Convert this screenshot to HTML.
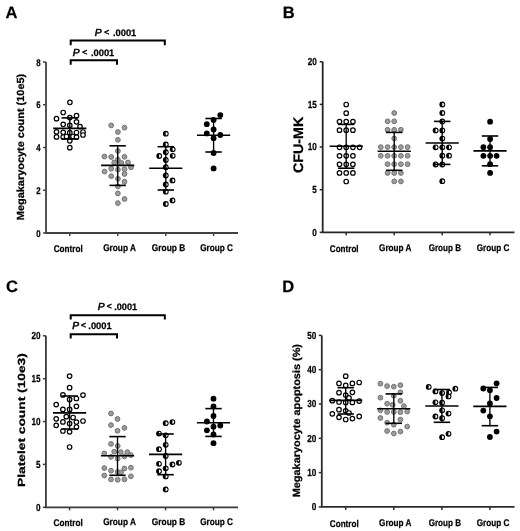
<!DOCTYPE html>
<html><head><meta charset="utf-8"><style>
html,body{margin:0;padding:0;background:#fff;}
svg{display:block;filter:grayscale(1);}
text{font-family:"Liberation Sans", sans-serif;text-rendering:geometricPrecision;fill:#000;stroke:#000;stroke-width:0.25px;}
</style></head><body>
<svg width="520" height="531" viewBox="0 0 520 531">
<circle cx="69.9" cy="102.3" r="2.25" fill="#fff" stroke="#000" stroke-width="1.2"/>
<circle cx="63.2" cy="112.5" r="2.25" fill="#fff" stroke="#000" stroke-width="1.2"/>
<circle cx="56.5" cy="118.7" r="2.25" fill="#fff" stroke="#000" stroke-width="1.2"/>
<circle cx="69.8" cy="117.6" r="2.25" fill="#fff" stroke="#000" stroke-width="1.2"/>
<circle cx="76.5" cy="115.7" r="2.25" fill="#fff" stroke="#000" stroke-width="1.2"/>
<circle cx="76.5" cy="121.8" r="2.25" fill="#fff" stroke="#000" stroke-width="1.2"/>
<circle cx="63.2" cy="124.3" r="2.25" fill="#fff" stroke="#000" stroke-width="1.2"/>
<circle cx="69.8" cy="125.3" r="2.25" fill="#fff" stroke="#000" stroke-width="1.2"/>
<circle cx="80" cy="126.6" r="2.25" fill="#fff" stroke="#000" stroke-width="1.2"/>
<circle cx="56.5" cy="131.8" r="2.25" fill="#fff" stroke="#000" stroke-width="1.2"/>
<circle cx="63.2" cy="132.3" r="2.25" fill="#fff" stroke="#000" stroke-width="1.2"/>
<circle cx="69.8" cy="132.7" r="2.25" fill="#fff" stroke="#000" stroke-width="1.2"/>
<circle cx="76.5" cy="132.5" r="2.25" fill="#fff" stroke="#000" stroke-width="1.2"/>
<circle cx="83" cy="132" r="2.25" fill="#fff" stroke="#000" stroke-width="1.2"/>
<circle cx="83" cy="135" r="2.25" fill="#fff" stroke="#000" stroke-width="1.2"/>
<circle cx="56.5" cy="136.9" r="2.25" fill="#fff" stroke="#000" stroke-width="1.2"/>
<circle cx="63.2" cy="137" r="2.25" fill="#fff" stroke="#000" stroke-width="1.2"/>
<circle cx="73" cy="136.5" r="2.25" fill="#fff" stroke="#000" stroke-width="1.2"/>
<circle cx="76.5" cy="137.2" r="2.25" fill="#fff" stroke="#000" stroke-width="1.2"/>
<circle cx="66.5" cy="136.5" r="2.25" fill="#fff" stroke="#000" stroke-width="1.2"/>
<circle cx="69.8" cy="140.8" r="2.25" fill="#fff" stroke="#000" stroke-width="1.2"/>
<circle cx="69.8" cy="147.7" r="2.25" fill="#fff" stroke="#000" stroke-width="1.2"/>
<circle cx="111.2" cy="125.4" r="2.4" fill="#9c9c9c" stroke="#707070" stroke-width="1"/>
<circle cx="124.5" cy="127.7" r="2.4" fill="#9c9c9c" stroke="#707070" stroke-width="1"/>
<circle cx="117.9" cy="132" r="2.4" fill="#9c9c9c" stroke="#707070" stroke-width="1"/>
<circle cx="117.9" cy="139.8" r="2.4" fill="#9c9c9c" stroke="#707070" stroke-width="1"/>
<circle cx="117.9" cy="151" r="2.4" fill="#9c9c9c" stroke="#707070" stroke-width="1"/>
<circle cx="104.4" cy="156.5" r="2.4" fill="#9c9c9c" stroke="#707070" stroke-width="1"/>
<circle cx="111.2" cy="157" r="2.4" fill="#9c9c9c" stroke="#707070" stroke-width="1"/>
<circle cx="124.5" cy="156.8" r="2.4" fill="#9c9c9c" stroke="#707070" stroke-width="1"/>
<circle cx="117.9" cy="159.6" r="2.4" fill="#9c9c9c" stroke="#707070" stroke-width="1"/>
<circle cx="114.2" cy="162.5" r="2.4" fill="#9c9c9c" stroke="#707070" stroke-width="1"/>
<circle cx="121.4" cy="163" r="2.4" fill="#9c9c9c" stroke="#707070" stroke-width="1"/>
<circle cx="128" cy="162.5" r="2.4" fill="#9c9c9c" stroke="#707070" stroke-width="1"/>
<circle cx="104.6" cy="171.6" r="2.4" fill="#9c9c9c" stroke="#707070" stroke-width="1"/>
<circle cx="111.2" cy="168.75" r="2.4" fill="#9c9c9c" stroke="#707070" stroke-width="1"/>
<circle cx="117.9" cy="169.7" r="2.4" fill="#9c9c9c" stroke="#707070" stroke-width="1"/>
<circle cx="124.5" cy="169.2" r="2.4" fill="#9c9c9c" stroke="#707070" stroke-width="1"/>
<circle cx="131" cy="167.3" r="2.4" fill="#9c9c9c" stroke="#707070" stroke-width="1"/>
<circle cx="124.5" cy="174" r="2.4" fill="#9c9c9c" stroke="#707070" stroke-width="1"/>
<circle cx="111.2" cy="176.2" r="2.4" fill="#9c9c9c" stroke="#707070" stroke-width="1"/>
<circle cx="117.9" cy="178.8" r="2.4" fill="#9c9c9c" stroke="#707070" stroke-width="1"/>
<circle cx="124.5" cy="181.7" r="2.4" fill="#9c9c9c" stroke="#707070" stroke-width="1"/>
<circle cx="117.9" cy="186.4" r="2.4" fill="#9c9c9c" stroke="#707070" stroke-width="1"/>
<circle cx="117.9" cy="193.4" r="2.4" fill="#9c9c9c" stroke="#707070" stroke-width="1"/>
<circle cx="124.5" cy="199" r="2.4" fill="#9c9c9c" stroke="#707070" stroke-width="1"/>
<circle cx="117.9" cy="203.1" r="2.4" fill="#9c9c9c" stroke="#707070" stroke-width="1"/>
<circle cx="165.8" cy="133.7" r="2.9" fill="#000"/><path d="M165.75 131.95A1.9 1.75 0 0 1 165.75 135.45Z" fill="#fff"/>
<circle cx="165.8" cy="144.5" r="2.9" fill="#000"/><path d="M165.75 142.75A1.9 1.75 0 0 1 165.75 146.25Z" fill="#fff"/>
<circle cx="172.7" cy="149.3" r="2.9" fill="#000"/><path d="M172.65 147.55A1.9 1.75 0 0 1 172.65 151.05Z" fill="#fff"/>
<circle cx="165.8" cy="152.2" r="2.9" fill="#000"/><path d="M165.75 150.45A1.9 1.75 0 0 1 165.75 153.95Z" fill="#fff"/>
<circle cx="159.2" cy="156" r="2.9" fill="#000"/><path d="M159.15 154.25A1.9 1.75 0 0 1 159.15 157.75Z" fill="#fff"/>
<circle cx="172.7" cy="155.8" r="2.9" fill="#000"/><path d="M172.65 154.05A1.9 1.75 0 0 1 172.65 157.55Z" fill="#fff"/>
<circle cx="165.8" cy="159.9" r="2.9" fill="#000"/><path d="M165.75 158.15A1.9 1.75 0 0 1 165.75 161.65Z" fill="#fff"/>
<circle cx="165.8" cy="167.2" r="2.9" fill="#000"/><path d="M165.75 165.45A1.9 1.75 0 0 1 165.75 168.95Z" fill="#fff"/>
<circle cx="165.8" cy="175.4" r="2.9" fill="#000"/><path d="M165.75 173.65A1.9 1.75 0 0 1 165.75 177.15Z" fill="#fff"/>
<circle cx="172.5" cy="180.4" r="2.9" fill="#000"/><path d="M172.45 178.65A1.9 1.75 0 0 1 172.45 182.15Z" fill="#fff"/>
<circle cx="165.8" cy="184.5" r="2.9" fill="#000"/><path d="M165.75 182.75A1.9 1.75 0 0 1 165.75 186.25Z" fill="#fff"/>
<circle cx="165.8" cy="191.7" r="2.9" fill="#000"/><path d="M165.75 189.95A1.9 1.75 0 0 1 165.75 193.45Z" fill="#fff"/>
<circle cx="172.5" cy="200.4" r="2.9" fill="#000"/><path d="M172.45 198.65A1.9 1.75 0 0 1 172.45 202.15Z" fill="#fff"/>
<circle cx="165.8" cy="204" r="2.9" fill="#000"/><path d="M165.75 202.25A1.9 1.75 0 0 1 165.75 205.75Z" fill="#fff"/>
<circle cx="220.3" cy="115.1" r="2.9" fill="#000"/>
<circle cx="213.6" cy="119.9" r="2.9" fill="#000"/>
<circle cx="206.8" cy="124.2" r="2.9" fill="#000"/>
<circle cx="213.6" cy="129.5" r="2.9" fill="#000"/>
<circle cx="206.8" cy="133.4" r="2.9" fill="#000"/>
<circle cx="220.3" cy="135" r="2.9" fill="#000"/>
<circle cx="213.6" cy="138.2" r="2.9" fill="#000"/>
<circle cx="213.6" cy="153" r="2.9" fill="#000"/>
<circle cx="213.6" cy="168.4" r="2.9" fill="#000"/>
<line x1="69.8" y1="117.9" x2="69.8" y2="139.0" stroke="#000" stroke-width="1.35"/>
<line x1="61.599999999999994" y1="117.9" x2="78.0" y2="117.9" stroke="#000" stroke-width="1.6"/>
<line x1="61.599999999999994" y1="139.0" x2="78.0" y2="139.0" stroke="#000" stroke-width="1.6"/>
<line x1="53.199999999999996" y1="128.4" x2="86.4" y2="128.4" stroke="#000" stroke-width="1.6"/>
<line x1="117.7" y1="145.8" x2="117.7" y2="185.4" stroke="#000" stroke-width="1.35"/>
<line x1="109.5" y1="145.8" x2="125.9" y2="145.8" stroke="#000" stroke-width="1.6"/>
<line x1="109.5" y1="185.4" x2="125.9" y2="185.4" stroke="#000" stroke-width="1.6"/>
<line x1="101.1" y1="165.4" x2="134.3" y2="165.4" stroke="#000" stroke-width="1.6"/>
<line x1="165.8" y1="146.7" x2="165.8" y2="190.0" stroke="#000" stroke-width="1.35"/>
<line x1="157.60000000000002" y1="146.7" x2="174.0" y2="146.7" stroke="#000" stroke-width="1.6"/>
<line x1="157.60000000000002" y1="190.0" x2="174.0" y2="190.0" stroke="#000" stroke-width="1.6"/>
<line x1="149.20000000000002" y1="168.3" x2="182.4" y2="168.3" stroke="#000" stroke-width="1.6"/>
<line x1="213.6" y1="118.5" x2="213.6" y2="152.0" stroke="#000" stroke-width="1.35"/>
<line x1="205.4" y1="118.5" x2="221.79999999999998" y2="118.5" stroke="#000" stroke-width="1.6"/>
<line x1="205.4" y1="152.0" x2="221.79999999999998" y2="152.0" stroke="#000" stroke-width="1.6"/>
<line x1="197.0" y1="135.3" x2="230.2" y2="135.3" stroke="#000" stroke-width="1.6"/>
<path d="M46 62 V233 H238" fill="none" stroke="#424242" stroke-width="1.8"/>
<line x1="43" y1="233" x2="46" y2="233" stroke="#424242" stroke-width="1.5"/>
<text x="40.7" y="236.53" text-anchor="end" font-size="9.8" font-weight="bold" textLength="4.36" lengthAdjust="spacingAndGlyphs">0</text>
<line x1="43" y1="190.25" x2="46" y2="190.25" stroke="#424242" stroke-width="1.5"/>
<text x="40.7" y="193.78" text-anchor="end" font-size="9.8" font-weight="bold" textLength="4.36" lengthAdjust="spacingAndGlyphs">2</text>
<line x1="43" y1="147.5" x2="46" y2="147.5" stroke="#424242" stroke-width="1.5"/>
<text x="40.7" y="151.03" text-anchor="end" font-size="9.8" font-weight="bold" textLength="4.36" lengthAdjust="spacingAndGlyphs">4</text>
<line x1="43" y1="104.75" x2="46" y2="104.75" stroke="#424242" stroke-width="1.5"/>
<text x="40.7" y="108.28" text-anchor="end" font-size="9.8" font-weight="bold" textLength="4.36" lengthAdjust="spacingAndGlyphs">6</text>
<line x1="43" y1="62" x2="46" y2="62" stroke="#424242" stroke-width="1.5"/>
<text x="40.7" y="65.53" text-anchor="end" font-size="9.8" font-weight="bold" textLength="4.36" lengthAdjust="spacingAndGlyphs">8</text>
<line x1="69.8" y1="233" x2="69.8" y2="236" stroke="#424242" stroke-width="1.5"/>
<line x1="117.7" y1="233" x2="117.7" y2="236" stroke="#424242" stroke-width="1.5"/>
<line x1="165.8" y1="233" x2="165.8" y2="236" stroke="#424242" stroke-width="1.5"/>
<line x1="213.6" y1="233" x2="213.6" y2="236" stroke="#424242" stroke-width="1.5"/>
<text x="53.7" y="252.10" font-size="9.7" font-weight="bold" textLength="29.0" lengthAdjust="spacingAndGlyphs">Control</text>
<text x="103.2" y="251.10" font-size="9.7" font-weight="bold" textLength="32.7" lengthAdjust="spacingAndGlyphs">Group A</text>
<text x="151.8" y="251.10" font-size="9.7" font-weight="bold" textLength="33.4" lengthAdjust="spacingAndGlyphs">Group B</text>
<text x="200.2" y="251.10" font-size="9.7" font-weight="bold" textLength="32.8" lengthAdjust="spacingAndGlyphs">Group C</text>
<text transform="translate(24.2,220.2) rotate(-90)" x="0" y="0" font-size="10.3" font-weight="bold" textLength="146.4" lengthAdjust="spacingAndGlyphs">Megakaryocyte count (10e5)</text>
<path d="M70.7 45.3 V40.5 H164.8 V45.3" fill="none" stroke="#000" stroke-width="2"/>
<path d="M70.7 64.8 V60.3 H117 V64.8" fill="none" stroke="#000" stroke-width="2"/>
<text x="94.80" y="35.60" font-size="10.2" font-weight="normal" font-style="italic" style="stroke-width:0.55px">P</text>
<text x="104.20" y="35.10" font-size="8.6" font-weight="normal" style="stroke-width:0.5px">&lt;</text>
<text x="113.00" y="35.5" font-size="9.3" font-weight="bold" textLength="23.30" lengthAdjust="spacingAndGlyphs">.0001</text>
<text x="72.80" y="55.70" font-size="10.2" font-weight="normal" font-style="italic" style="stroke-width:0.55px">P</text>
<text x="82.20" y="55.20" font-size="8.6" font-weight="normal" style="stroke-width:0.5px">&lt;</text>
<text x="91.00" y="55.6" font-size="9.3" font-weight="bold" textLength="23.30" lengthAdjust="spacingAndGlyphs">.0001</text>
<text x="5.5" y="17.7" font-size="16.5" font-weight="bold">A</text>
<circle cx="346.2" cy="104.5" r="2.25" fill="#fff" stroke="#000" stroke-width="1.2"/>
<circle cx="346.2" cy="113.2" r="2.25" fill="#fff" stroke="#000" stroke-width="1.2"/>
<circle cx="339.5" cy="121.6" r="2.25" fill="#fff" stroke="#000" stroke-width="1.2"/>
<circle cx="346.2" cy="121.6" r="2.25" fill="#fff" stroke="#000" stroke-width="1.2"/>
<circle cx="352.9" cy="121.6" r="2.25" fill="#fff" stroke="#000" stroke-width="1.2"/>
<circle cx="339.5" cy="130.2" r="2.25" fill="#fff" stroke="#000" stroke-width="1.2"/>
<circle cx="346.2" cy="130.2" r="2.25" fill="#fff" stroke="#000" stroke-width="1.2"/>
<circle cx="352.9" cy="130.2" r="2.25" fill="#fff" stroke="#000" stroke-width="1.2"/>
<circle cx="339.5" cy="147.3" r="2.25" fill="#fff" stroke="#000" stroke-width="1.2"/>
<circle cx="346.2" cy="147.3" r="2.25" fill="#fff" stroke="#000" stroke-width="1.2"/>
<circle cx="352.9" cy="147.3" r="2.25" fill="#fff" stroke="#000" stroke-width="1.2"/>
<circle cx="359.6" cy="147.3" r="2.25" fill="#fff" stroke="#000" stroke-width="1.2"/>
<circle cx="339.5" cy="155.8" r="2.25" fill="#fff" stroke="#000" stroke-width="1.2"/>
<circle cx="346.2" cy="155.8" r="2.25" fill="#fff" stroke="#000" stroke-width="1.2"/>
<circle cx="352.9" cy="155.8" r="2.25" fill="#fff" stroke="#000" stroke-width="1.2"/>
<circle cx="339.5" cy="164.3" r="2.25" fill="#fff" stroke="#000" stroke-width="1.2"/>
<circle cx="346.2" cy="164.3" r="2.25" fill="#fff" stroke="#000" stroke-width="1.2"/>
<circle cx="352.9" cy="164.3" r="2.25" fill="#fff" stroke="#000" stroke-width="1.2"/>
<circle cx="339.5" cy="172.9" r="2.25" fill="#fff" stroke="#000" stroke-width="1.2"/>
<circle cx="346.2" cy="172.9" r="2.25" fill="#fff" stroke="#000" stroke-width="1.2"/>
<circle cx="352.9" cy="172.9" r="2.25" fill="#fff" stroke="#000" stroke-width="1.2"/>
<circle cx="346.2" cy="181.5" r="2.25" fill="#fff" stroke="#000" stroke-width="1.2"/>
<circle cx="394.2" cy="113" r="2.4" fill="#9c9c9c" stroke="#707070" stroke-width="1"/>
<circle cx="387.6" cy="121.3" r="2.4" fill="#9c9c9c" stroke="#707070" stroke-width="1"/>
<circle cx="394.2" cy="121.3" r="2.4" fill="#9c9c9c" stroke="#707070" stroke-width="1"/>
<circle cx="387.6" cy="129.8" r="2.4" fill="#9c9c9c" stroke="#707070" stroke-width="1"/>
<circle cx="394.2" cy="129.8" r="2.4" fill="#9c9c9c" stroke="#707070" stroke-width="1"/>
<circle cx="400.9" cy="129.8" r="2.4" fill="#9c9c9c" stroke="#707070" stroke-width="1"/>
<circle cx="394.2" cy="138.5" r="2.4" fill="#9c9c9c" stroke="#707070" stroke-width="1"/>
<circle cx="380.8" cy="147.1" r="2.4" fill="#9c9c9c" stroke="#707070" stroke-width="1"/>
<circle cx="387.6" cy="147.1" r="2.4" fill="#9c9c9c" stroke="#707070" stroke-width="1"/>
<circle cx="394.2" cy="147.1" r="2.4" fill="#9c9c9c" stroke="#707070" stroke-width="1"/>
<circle cx="400.9" cy="147.1" r="2.4" fill="#9c9c9c" stroke="#707070" stroke-width="1"/>
<circle cx="407.6" cy="147.1" r="2.4" fill="#9c9c9c" stroke="#707070" stroke-width="1"/>
<circle cx="380.8" cy="155.8" r="2.4" fill="#9c9c9c" stroke="#707070" stroke-width="1"/>
<circle cx="387.6" cy="155.8" r="2.4" fill="#9c9c9c" stroke="#707070" stroke-width="1"/>
<circle cx="394.2" cy="155.8" r="2.4" fill="#9c9c9c" stroke="#707070" stroke-width="1"/>
<circle cx="400.9" cy="155.8" r="2.4" fill="#9c9c9c" stroke="#707070" stroke-width="1"/>
<circle cx="407.6" cy="155.8" r="2.4" fill="#9c9c9c" stroke="#707070" stroke-width="1"/>
<circle cx="387.6" cy="164.2" r="2.4" fill="#9c9c9c" stroke="#707070" stroke-width="1"/>
<circle cx="394.2" cy="164.2" r="2.4" fill="#9c9c9c" stroke="#707070" stroke-width="1"/>
<circle cx="400.9" cy="164.2" r="2.4" fill="#9c9c9c" stroke="#707070" stroke-width="1"/>
<circle cx="407.6" cy="164.2" r="2.4" fill="#9c9c9c" stroke="#707070" stroke-width="1"/>
<circle cx="387.6" cy="173" r="2.4" fill="#9c9c9c" stroke="#707070" stroke-width="1"/>
<circle cx="394.2" cy="173" r="2.4" fill="#9c9c9c" stroke="#707070" stroke-width="1"/>
<circle cx="400.9" cy="173" r="2.4" fill="#9c9c9c" stroke="#707070" stroke-width="1"/>
<circle cx="394.2" cy="181.4" r="2.4" fill="#9c9c9c" stroke="#707070" stroke-width="1"/>
<circle cx="400.9" cy="181.4" r="2.4" fill="#9c9c9c" stroke="#707070" stroke-width="1"/>
<circle cx="442.3" cy="104.5" r="2.9" fill="#000"/><path d="M442.25 102.75A1.9 1.75 0 0 1 442.25 106.25Z" fill="#fff"/>
<circle cx="442.3" cy="113" r="2.9" fill="#000"/><path d="M442.25 111.25A1.9 1.75 0 0 1 442.25 114.75Z" fill="#fff"/>
<circle cx="442.3" cy="121.4" r="2.9" fill="#000"/><path d="M442.25 119.65A1.9 1.75 0 0 1 442.25 123.15Z" fill="#fff"/>
<circle cx="435.6" cy="130.4" r="2.9" fill="#000"/><path d="M435.55 128.65A1.9 1.75 0 0 1 435.55 132.15Z" fill="#fff"/>
<circle cx="442.3" cy="130.4" r="2.9" fill="#000"/><path d="M442.25 128.65A1.9 1.75 0 0 1 442.25 132.15Z" fill="#fff"/>
<circle cx="442.3" cy="138.6" r="2.9" fill="#000"/><path d="M442.25 136.85A1.9 1.75 0 0 1 442.25 140.35Z" fill="#fff"/>
<circle cx="435.6" cy="147.3" r="2.9" fill="#000"/><path d="M435.55 145.55A1.9 1.75 0 0 1 435.55 149.05Z" fill="#fff"/>
<circle cx="442.3" cy="147.3" r="2.9" fill="#000"/><path d="M442.25 145.55A1.9 1.75 0 0 1 442.25 149.05Z" fill="#fff"/>
<circle cx="449" cy="147.3" r="2.9" fill="#000"/><path d="M448.95 145.55A1.9 1.75 0 0 1 448.95 149.05Z" fill="#fff"/>
<circle cx="442.3" cy="155.7" r="2.9" fill="#000"/><path d="M442.25 153.95A1.9 1.75 0 0 1 442.25 157.45Z" fill="#fff"/>
<circle cx="449" cy="155.7" r="2.9" fill="#000"/><path d="M448.95 153.95A1.9 1.75 0 0 1 448.95 157.45Z" fill="#fff"/>
<circle cx="435.6" cy="164.5" r="2.9" fill="#000"/><path d="M435.55 162.75A1.9 1.75 0 0 1 435.55 166.25Z" fill="#fff"/>
<circle cx="442.3" cy="164.5" r="2.9" fill="#000"/><path d="M442.25 162.75A1.9 1.75 0 0 1 442.25 166.25Z" fill="#fff"/>
<circle cx="442.3" cy="181.2" r="2.9" fill="#000"/><path d="M442.25 179.45A1.9 1.75 0 0 1 442.25 182.95Z" fill="#fff"/>
<circle cx="490.1" cy="121.7" r="2.9" fill="#000"/>
<circle cx="490.1" cy="139" r="2.9" fill="#000"/>
<circle cx="483.4" cy="147.2" r="2.9" fill="#000"/>
<circle cx="490.1" cy="147.2" r="2.9" fill="#000"/>
<circle cx="483.4" cy="155.8" r="2.9" fill="#000"/>
<circle cx="490.1" cy="155.8" r="2.9" fill="#000"/>
<circle cx="496.6" cy="155.8" r="2.9" fill="#000"/>
<circle cx="490.1" cy="164.2" r="2.9" fill="#000"/>
<circle cx="490.1" cy="172.9" r="2.9" fill="#000"/>
<line x1="346.2" y1="124.4" x2="346.2" y2="168.2" stroke="#000" stroke-width="1.35"/>
<line x1="338.0" y1="124.4" x2="354.4" y2="124.4" stroke="#000" stroke-width="1.6"/>
<line x1="338.0" y1="168.2" x2="354.4" y2="168.2" stroke="#000" stroke-width="1.6"/>
<line x1="329.59999999999997" y1="146.3" x2="362.8" y2="146.3" stroke="#000" stroke-width="1.6"/>
<line x1="394.2" y1="132.4" x2="394.2" y2="170.3" stroke="#000" stroke-width="1.35"/>
<line x1="386.0" y1="132.4" x2="402.4" y2="132.4" stroke="#000" stroke-width="1.6"/>
<line x1="386.0" y1="170.3" x2="402.4" y2="170.3" stroke="#000" stroke-width="1.6"/>
<line x1="377.59999999999997" y1="151.3" x2="410.8" y2="151.3" stroke="#000" stroke-width="1.6"/>
<line x1="442.2" y1="121.4" x2="442.2" y2="164.4" stroke="#000" stroke-width="1.35"/>
<line x1="434.0" y1="121.4" x2="450.4" y2="121.4" stroke="#000" stroke-width="1.6"/>
<line x1="434.0" y1="164.4" x2="450.4" y2="164.4" stroke="#000" stroke-width="1.6"/>
<line x1="425.59999999999997" y1="143.0" x2="458.8" y2="143.0" stroke="#000" stroke-width="1.6"/>
<line x1="490.0" y1="136.0" x2="490.0" y2="165.8" stroke="#000" stroke-width="1.35"/>
<line x1="481.8" y1="136.0" x2="498.2" y2="136.0" stroke="#000" stroke-width="1.6"/>
<line x1="481.8" y1="165.8" x2="498.2" y2="165.8" stroke="#000" stroke-width="1.6"/>
<line x1="473.4" y1="150.9" x2="506.6" y2="150.9" stroke="#000" stroke-width="1.6"/>
<path d="M322.7 61.8 V232.3 H514.5" fill="none" stroke="#262626" stroke-width="1.8"/>
<line x1="319.7" y1="232.3" x2="322.7" y2="232.3" stroke="#262626" stroke-width="1.5"/>
<text x="316.7" y="235.67" text-anchor="end" font-size="10.2" font-weight="bold" textLength="4.54" lengthAdjust="spacingAndGlyphs">0</text>
<line x1="319.7" y1="189.7" x2="322.7" y2="189.7" stroke="#262626" stroke-width="1.5"/>
<text x="316.7" y="193.07" text-anchor="end" font-size="10.2" font-weight="bold" textLength="4.54" lengthAdjust="spacingAndGlyphs">5</text>
<line x1="319.7" y1="147.05" x2="322.7" y2="147.05" stroke="#262626" stroke-width="1.5"/>
<text x="316.7" y="150.42" text-anchor="end" font-size="10.2" font-weight="bold" textLength="9.07" lengthAdjust="spacingAndGlyphs">10</text>
<line x1="319.7" y1="104.4" x2="322.7" y2="104.4" stroke="#262626" stroke-width="1.5"/>
<text x="316.7" y="107.77" text-anchor="end" font-size="10.2" font-weight="bold" textLength="9.07" lengthAdjust="spacingAndGlyphs">15</text>
<line x1="319.7" y1="61.8" x2="322.7" y2="61.8" stroke="#262626" stroke-width="1.5"/>
<text x="316.7" y="65.17" text-anchor="end" font-size="10.2" font-weight="bold" textLength="9.07" lengthAdjust="spacingAndGlyphs">20</text>
<line x1="346.2" y1="232.3" x2="346.2" y2="235.3" stroke="#262626" stroke-width="1.5"/>
<line x1="394.2" y1="232.3" x2="394.2" y2="235.3" stroke="#262626" stroke-width="1.5"/>
<line x1="442.2" y1="232.3" x2="442.2" y2="235.3" stroke="#262626" stroke-width="1.5"/>
<line x1="490.0" y1="232.3" x2="490.0" y2="235.3" stroke="#262626" stroke-width="1.5"/>
<text x="329.8" y="252.20" font-size="9.7" font-weight="bold" textLength="28.8" lengthAdjust="spacingAndGlyphs">Control</text>
<text x="379" y="251.20" font-size="9.7" font-weight="bold" textLength="32.5" lengthAdjust="spacingAndGlyphs">Group A</text>
<text x="428.7" y="251.20" font-size="9.7" font-weight="bold" textLength="32.3" lengthAdjust="spacingAndGlyphs">Group B</text>
<text x="476.7" y="251.20" font-size="9.7" font-weight="bold" textLength="32.7" lengthAdjust="spacingAndGlyphs">Group C</text>
<text transform="translate(302.6,173.1) rotate(-90)" x="0" y="0" font-size="13.8" font-weight="bold" textLength="56.3" lengthAdjust="spacingAndGlyphs">CFU-MK</text>
<text x="282.8" y="17.7" font-size="16.5" font-weight="bold">B</text>
<circle cx="69.6" cy="376.1" r="2.25" fill="#fff" stroke="#000" stroke-width="1.2"/>
<circle cx="69.6" cy="387.7" r="2.25" fill="#fff" stroke="#000" stroke-width="1.2"/>
<circle cx="62.9" cy="394.9" r="2.25" fill="#fff" stroke="#000" stroke-width="1.2"/>
<circle cx="83" cy="395.1" r="2.25" fill="#fff" stroke="#000" stroke-width="1.2"/>
<circle cx="69.6" cy="399.4" r="2.25" fill="#fff" stroke="#000" stroke-width="1.2"/>
<circle cx="76.4" cy="398.5" r="2.25" fill="#fff" stroke="#000" stroke-width="1.2"/>
<circle cx="56.2" cy="404.6" r="2.25" fill="#fff" stroke="#000" stroke-width="1.2"/>
<circle cx="76.4" cy="406.3" r="2.25" fill="#fff" stroke="#000" stroke-width="1.2"/>
<circle cx="62.9" cy="409.4" r="2.25" fill="#fff" stroke="#000" stroke-width="1.2"/>
<circle cx="69.6" cy="409.4" r="2.25" fill="#fff" stroke="#000" stroke-width="1.2"/>
<circle cx="66.3" cy="416.7" r="2.25" fill="#fff" stroke="#000" stroke-width="1.2"/>
<circle cx="73.1" cy="417.5" r="2.25" fill="#fff" stroke="#000" stroke-width="1.2"/>
<circle cx="56.2" cy="418.8" r="2.25" fill="#fff" stroke="#000" stroke-width="1.2"/>
<circle cx="83" cy="421" r="2.25" fill="#fff" stroke="#000" stroke-width="1.2"/>
<circle cx="62.9" cy="421.9" r="2.25" fill="#fff" stroke="#000" stroke-width="1.2"/>
<circle cx="76.4" cy="422.1" r="2.25" fill="#fff" stroke="#000" stroke-width="1.2"/>
<circle cx="69.6" cy="423.6" r="2.25" fill="#fff" stroke="#000" stroke-width="1.2"/>
<circle cx="56.2" cy="425.3" r="2.25" fill="#fff" stroke="#000" stroke-width="1.2"/>
<circle cx="76.4" cy="427" r="2.25" fill="#fff" stroke="#000" stroke-width="1.2"/>
<circle cx="62.9" cy="431" r="2.25" fill="#fff" stroke="#000" stroke-width="1.2"/>
<circle cx="69.6" cy="431.8" r="2.25" fill="#fff" stroke="#000" stroke-width="1.2"/>
<circle cx="69.6" cy="447" r="2.25" fill="#fff" stroke="#000" stroke-width="1.2"/>
<circle cx="111" cy="413.5" r="2.4" fill="#9c9c9c" stroke="#707070" stroke-width="1"/>
<circle cx="117.5" cy="419" r="2.4" fill="#9c9c9c" stroke="#707070" stroke-width="1"/>
<circle cx="111" cy="425.1" r="2.4" fill="#9c9c9c" stroke="#707070" stroke-width="1"/>
<circle cx="124.4" cy="427.9" r="2.4" fill="#9c9c9c" stroke="#707070" stroke-width="1"/>
<circle cx="117.5" cy="430.8" r="2.4" fill="#9c9c9c" stroke="#707070" stroke-width="1"/>
<circle cx="111" cy="443.9" r="2.4" fill="#9c9c9c" stroke="#707070" stroke-width="1"/>
<circle cx="117.7" cy="446" r="2.4" fill="#9c9c9c" stroke="#707070" stroke-width="1"/>
<circle cx="104.3" cy="453.4" r="2.4" fill="#9c9c9c" stroke="#707070" stroke-width="1"/>
<circle cx="114.2" cy="451.7" r="2.4" fill="#9c9c9c" stroke="#707070" stroke-width="1"/>
<circle cx="120.8" cy="452.1" r="2.4" fill="#9c9c9c" stroke="#707070" stroke-width="1"/>
<circle cx="127.4" cy="452.1" r="2.4" fill="#9c9c9c" stroke="#707070" stroke-width="1"/>
<circle cx="111" cy="456.9" r="2.4" fill="#9c9c9c" stroke="#707070" stroke-width="1"/>
<circle cx="117.7" cy="458.6" r="2.4" fill="#9c9c9c" stroke="#707070" stroke-width="1"/>
<circle cx="124.4" cy="456.4" r="2.4" fill="#9c9c9c" stroke="#707070" stroke-width="1"/>
<circle cx="130.9" cy="455.1" r="2.4" fill="#9c9c9c" stroke="#707070" stroke-width="1"/>
<circle cx="104.3" cy="468.1" r="2.4" fill="#9c9c9c" stroke="#707070" stroke-width="1"/>
<circle cx="111" cy="470.7" r="2.4" fill="#9c9c9c" stroke="#707070" stroke-width="1"/>
<circle cx="117.7" cy="472" r="2.4" fill="#9c9c9c" stroke="#707070" stroke-width="1"/>
<circle cx="121" cy="472.4" r="2.4" fill="#9c9c9c" stroke="#707070" stroke-width="1"/>
<circle cx="124.4" cy="468.5" r="2.4" fill="#9c9c9c" stroke="#707070" stroke-width="1"/>
<circle cx="130.9" cy="467.7" r="2.4" fill="#9c9c9c" stroke="#707070" stroke-width="1"/>
<circle cx="104.3" cy="475.5" r="2.4" fill="#9c9c9c" stroke="#707070" stroke-width="1"/>
<circle cx="111" cy="479.4" r="2.4" fill="#9c9c9c" stroke="#707070" stroke-width="1"/>
<circle cx="117.7" cy="479.8" r="2.4" fill="#9c9c9c" stroke="#707070" stroke-width="1"/>
<circle cx="124.4" cy="479.4" r="2.4" fill="#9c9c9c" stroke="#707070" stroke-width="1"/>
<circle cx="130.9" cy="476.3" r="2.4" fill="#9c9c9c" stroke="#707070" stroke-width="1"/>
<circle cx="165.7" cy="423.2" r="2.9" fill="#000"/><path d="M165.65 421.45A1.9 1.75 0 0 1 165.65 424.95Z" fill="#fff"/>
<circle cx="172.4" cy="422.1" r="2.9" fill="#000"/><path d="M172.35 420.35A1.9 1.75 0 0 1 172.35 423.85Z" fill="#fff"/>
<circle cx="159" cy="433.6" r="2.9" fill="#000"/><path d="M158.95 431.85A1.9 1.75 0 0 1 158.95 435.35Z" fill="#fff"/>
<circle cx="165.7" cy="435.3" r="2.9" fill="#000"/><path d="M165.65 433.55A1.9 1.75 0 0 1 165.65 437.05Z" fill="#fff"/>
<circle cx="165.7" cy="444.8" r="2.9" fill="#000"/><path d="M165.65 443.05A1.9 1.75 0 0 1 165.65 446.55Z" fill="#fff"/>
<circle cx="159" cy="449.2" r="2.9" fill="#000"/><path d="M158.95 447.45A1.9 1.75 0 0 1 158.95 450.95Z" fill="#fff"/>
<circle cx="165.7" cy="456" r="2.9" fill="#000"/><path d="M165.65 454.25A1.9 1.75 0 0 1 165.65 457.75Z" fill="#fff"/>
<circle cx="159" cy="463.8" r="2.9" fill="#000"/><path d="M158.95 462.05A1.9 1.75 0 0 1 158.95 465.55Z" fill="#fff"/>
<circle cx="172.4" cy="464.5" r="2.9" fill="#000"/><path d="M172.35 462.75A1.9 1.75 0 0 1 172.35 466.25Z" fill="#fff"/>
<circle cx="178.9" cy="462.8" r="2.9" fill="#000"/><path d="M178.85 461.05A1.9 1.75 0 0 1 178.85 464.55Z" fill="#fff"/>
<circle cx="165.7" cy="468.3" r="2.9" fill="#000"/><path d="M165.65 466.55A1.9 1.75 0 0 1 165.65 470.05Z" fill="#fff"/>
<circle cx="159" cy="471.2" r="2.9" fill="#000"/><path d="M158.95 469.45A1.9 1.75 0 0 1 158.95 472.95Z" fill="#fff"/>
<circle cx="165.7" cy="476.4" r="2.9" fill="#000"/><path d="M165.65 474.65A1.9 1.75 0 0 1 165.65 478.15Z" fill="#fff"/>
<circle cx="165.7" cy="489.4" r="2.9" fill="#000"/><path d="M165.65 487.65A1.9 1.75 0 0 1 165.65 491.15Z" fill="#fff"/>
<circle cx="213.5" cy="398.7" r="2.9" fill="#000"/>
<circle cx="213.5" cy="406.3" r="2.9" fill="#000"/>
<circle cx="213.5" cy="416" r="2.9" fill="#000"/>
<circle cx="206.9" cy="421.5" r="2.9" fill="#000"/>
<circle cx="220.3" cy="425.5" r="2.9" fill="#000"/>
<circle cx="213.5" cy="426.7" r="2.9" fill="#000"/>
<circle cx="206.9" cy="430.3" r="2.9" fill="#000"/>
<circle cx="213.5" cy="434.5" r="2.9" fill="#000"/>
<circle cx="213.5" cy="443.2" r="2.9" fill="#000"/>
<line x1="69.6" y1="396.0" x2="69.6" y2="429.0" stroke="#000" stroke-width="1.35"/>
<line x1="61.39999999999999" y1="396.0" x2="77.8" y2="396.0" stroke="#000" stroke-width="1.6"/>
<line x1="61.39999999999999" y1="429.0" x2="77.8" y2="429.0" stroke="#000" stroke-width="1.6"/>
<line x1="52.99999999999999" y1="412.9" x2="86.19999999999999" y2="412.9" stroke="#000" stroke-width="1.6"/>
<line x1="117.5" y1="436.6" x2="117.5" y2="475.3" stroke="#000" stroke-width="1.35"/>
<line x1="109.3" y1="436.6" x2="125.7" y2="436.6" stroke="#000" stroke-width="1.6"/>
<line x1="109.3" y1="475.3" x2="125.7" y2="475.3" stroke="#000" stroke-width="1.6"/>
<line x1="100.9" y1="455.8" x2="134.1" y2="455.8" stroke="#000" stroke-width="1.6"/>
<line x1="165.6" y1="434.0" x2="165.6" y2="474.7" stroke="#000" stroke-width="1.35"/>
<line x1="157.4" y1="434.0" x2="173.79999999999998" y2="434.0" stroke="#000" stroke-width="1.6"/>
<line x1="157.4" y1="474.7" x2="173.79999999999998" y2="474.7" stroke="#000" stroke-width="1.6"/>
<line x1="149.0" y1="454.4" x2="182.2" y2="454.4" stroke="#000" stroke-width="1.6"/>
<line x1="213.5" y1="408.6" x2="213.5" y2="436.4" stroke="#000" stroke-width="1.35"/>
<line x1="205.3" y1="408.6" x2="221.7" y2="408.6" stroke="#000" stroke-width="1.6"/>
<line x1="205.3" y1="436.4" x2="221.7" y2="436.4" stroke="#000" stroke-width="1.6"/>
<line x1="196.9" y1="422.7" x2="230.1" y2="422.7" stroke="#000" stroke-width="1.6"/>
<path d="M45.9 335.8 V507.3 H238" fill="none" stroke="#3a3a3a" stroke-width="1.8"/>
<line x1="42.9" y1="507.3" x2="45.9" y2="507.3" stroke="#3a3a3a" stroke-width="1.5"/>
<text x="40.5" y="510.67" text-anchor="end" font-size="10.2" font-weight="bold" textLength="4.54" lengthAdjust="spacingAndGlyphs">0</text>
<line x1="42.9" y1="464.4" x2="45.9" y2="464.4" stroke="#3a3a3a" stroke-width="1.5"/>
<text x="40.5" y="467.77" text-anchor="end" font-size="10.2" font-weight="bold" textLength="4.54" lengthAdjust="spacingAndGlyphs">5</text>
<line x1="42.9" y1="421.55" x2="45.9" y2="421.55" stroke="#3a3a3a" stroke-width="1.5"/>
<text x="40.5" y="424.92" text-anchor="end" font-size="10.2" font-weight="bold" textLength="9.07" lengthAdjust="spacingAndGlyphs">10</text>
<line x1="42.9" y1="378.7" x2="45.9" y2="378.7" stroke="#3a3a3a" stroke-width="1.5"/>
<text x="40.5" y="382.07" text-anchor="end" font-size="10.2" font-weight="bold" textLength="9.07" lengthAdjust="spacingAndGlyphs">15</text>
<line x1="42.9" y1="335.8" x2="45.9" y2="335.8" stroke="#3a3a3a" stroke-width="1.5"/>
<text x="40.5" y="339.17" text-anchor="end" font-size="10.2" font-weight="bold" textLength="9.07" lengthAdjust="spacingAndGlyphs">20</text>
<line x1="69.6" y1="507.3" x2="69.6" y2="510.3" stroke="#3a3a3a" stroke-width="1.5"/>
<line x1="117.5" y1="507.3" x2="117.5" y2="510.3" stroke="#3a3a3a" stroke-width="1.5"/>
<line x1="165.6" y1="507.3" x2="165.6" y2="510.3" stroke="#3a3a3a" stroke-width="1.5"/>
<line x1="213.5" y1="507.3" x2="213.5" y2="510.3" stroke="#3a3a3a" stroke-width="1.5"/>
<text x="53.5" y="526.20" font-size="9.7" font-weight="bold" textLength="29.2" lengthAdjust="spacingAndGlyphs">Control</text>
<text x="103.2" y="525.20" font-size="9.7" font-weight="bold" textLength="32.7" lengthAdjust="spacingAndGlyphs">Group A</text>
<text x="151.8" y="525.20" font-size="9.7" font-weight="bold" textLength="33.4" lengthAdjust="spacingAndGlyphs">Group B</text>
<text x="200.2" y="525.20" font-size="9.7" font-weight="bold" textLength="32.8" lengthAdjust="spacingAndGlyphs">Group C</text>
<text transform="translate(24.5,486.9) rotate(-90)" x="0" y="0" font-size="10.3" font-weight="bold" textLength="133.7" lengthAdjust="spacingAndGlyphs">Platelet count (10e3)</text>
<path d="M70.7 319.5 V315.2 H164.8 V319.5" fill="none" stroke="#000" stroke-width="2"/>
<path d="M70.7 338.5 V334.3 H117 V338.5" fill="none" stroke="#000" stroke-width="2"/>
<text x="97.80" y="309.90" font-size="10.2" font-weight="normal" font-style="italic" style="stroke-width:0.55px">P</text>
<text x="106.80" y="309.40" font-size="8.6" font-weight="normal" style="stroke-width:0.5px">&lt;</text>
<text x="114.20" y="309.8" font-size="9.3" font-weight="bold" textLength="22.90" lengthAdjust="spacingAndGlyphs">.0001</text>
<text x="72.30" y="328.90" font-size="10.2" font-weight="normal" font-style="italic" style="stroke-width:0.55px">P</text>
<text x="80.90" y="328.40" font-size="8.6" font-weight="normal" style="stroke-width:0.5px">&lt;</text>
<text x="88.30" y="328.8" font-size="9.3" font-weight="bold" textLength="23.40" lengthAdjust="spacingAndGlyphs">.0001</text>
<text x="5.9" y="292.3" font-size="16.5" font-weight="bold">C</text>
<circle cx="345.7" cy="376.2" r="2.25" fill="#fff" stroke="#000" stroke-width="1.2"/>
<circle cx="339" cy="383.4" r="2.25" fill="#fff" stroke="#000" stroke-width="1.2"/>
<circle cx="345.7" cy="385.4" r="2.25" fill="#fff" stroke="#000" stroke-width="1.2"/>
<circle cx="352.4" cy="383.4" r="2.25" fill="#fff" stroke="#000" stroke-width="1.2"/>
<circle cx="359.2" cy="382.5" r="2.25" fill="#fff" stroke="#000" stroke-width="1.2"/>
<circle cx="339" cy="392.7" r="2.25" fill="#fff" stroke="#000" stroke-width="1.2"/>
<circle cx="352.4" cy="392.3" r="2.25" fill="#fff" stroke="#000" stroke-width="1.2"/>
<circle cx="345.7" cy="395.1" r="2.25" fill="#fff" stroke="#000" stroke-width="1.2"/>
<circle cx="349" cy="397.9" r="2.25" fill="#fff" stroke="#000" stroke-width="1.2"/>
<circle cx="332.3" cy="400.7" r="2.25" fill="#fff" stroke="#000" stroke-width="1.2"/>
<circle cx="339" cy="402" r="2.25" fill="#fff" stroke="#000" stroke-width="1.2"/>
<circle cx="345.7" cy="402.4" r="2.25" fill="#fff" stroke="#000" stroke-width="1.2"/>
<circle cx="352.4" cy="402.4" r="2.25" fill="#fff" stroke="#000" stroke-width="1.2"/>
<circle cx="359.2" cy="401.1" r="2.25" fill="#fff" stroke="#000" stroke-width="1.2"/>
<circle cx="339" cy="409.7" r="2.25" fill="#fff" stroke="#000" stroke-width="1.2"/>
<circle cx="345.7" cy="410.8" r="2.25" fill="#fff" stroke="#000" stroke-width="1.2"/>
<circle cx="349" cy="413" r="2.25" fill="#fff" stroke="#000" stroke-width="1.2"/>
<circle cx="332.3" cy="413.8" r="2.25" fill="#fff" stroke="#000" stroke-width="1.2"/>
<circle cx="339" cy="417.3" r="2.25" fill="#fff" stroke="#000" stroke-width="1.2"/>
<circle cx="345.7" cy="419.5" r="2.25" fill="#fff" stroke="#000" stroke-width="1.2"/>
<circle cx="352.4" cy="418.6" r="2.25" fill="#fff" stroke="#000" stroke-width="1.2"/>
<circle cx="359.2" cy="416.4" r="2.25" fill="#fff" stroke="#000" stroke-width="1.2"/>
<circle cx="380.4" cy="383.7" r="2.4" fill="#9c9c9c" stroke="#707070" stroke-width="1"/>
<circle cx="387.1" cy="386.1" r="2.4" fill="#9c9c9c" stroke="#707070" stroke-width="1"/>
<circle cx="393.8" cy="386.7" r="2.4" fill="#9c9c9c" stroke="#707070" stroke-width="1"/>
<circle cx="400.4" cy="385.2" r="2.4" fill="#9c9c9c" stroke="#707070" stroke-width="1"/>
<circle cx="400.4" cy="392.3" r="2.4" fill="#9c9c9c" stroke="#707070" stroke-width="1"/>
<circle cx="393.8" cy="395.8" r="2.4" fill="#9c9c9c" stroke="#707070" stroke-width="1"/>
<circle cx="380.4" cy="397.7" r="2.4" fill="#9c9c9c" stroke="#707070" stroke-width="1"/>
<circle cx="400.4" cy="400.8" r="2.4" fill="#9c9c9c" stroke="#707070" stroke-width="1"/>
<circle cx="387.1" cy="403.7" r="2.4" fill="#9c9c9c" stroke="#707070" stroke-width="1"/>
<circle cx="392.7" cy="404.8" r="2.4" fill="#9c9c9c" stroke="#707070" stroke-width="1"/>
<circle cx="403.9" cy="406.1" r="2.4" fill="#9c9c9c" stroke="#707070" stroke-width="1"/>
<circle cx="380.4" cy="410.3" r="2.4" fill="#9c9c9c" stroke="#707070" stroke-width="1"/>
<circle cx="387.1" cy="412" r="2.4" fill="#9c9c9c" stroke="#707070" stroke-width="1"/>
<circle cx="393.8" cy="412" r="2.4" fill="#9c9c9c" stroke="#707070" stroke-width="1"/>
<circle cx="400.4" cy="412.2" r="2.4" fill="#9c9c9c" stroke="#707070" stroke-width="1"/>
<circle cx="407.2" cy="411.5" r="2.4" fill="#9c9c9c" stroke="#707070" stroke-width="1"/>
<circle cx="380.4" cy="418" r="2.4" fill="#9c9c9c" stroke="#707070" stroke-width="1"/>
<circle cx="400.4" cy="419.6" r="2.4" fill="#9c9c9c" stroke="#707070" stroke-width="1"/>
<circle cx="387.1" cy="422.7" r="2.4" fill="#9c9c9c" stroke="#707070" stroke-width="1"/>
<circle cx="393.8" cy="424.7" r="2.4" fill="#9c9c9c" stroke="#707070" stroke-width="1"/>
<circle cx="407.2" cy="426.6" r="2.4" fill="#9c9c9c" stroke="#707070" stroke-width="1"/>
<circle cx="387.1" cy="431" r="2.4" fill="#9c9c9c" stroke="#707070" stroke-width="1"/>
<circle cx="393.8" cy="433.5" r="2.4" fill="#9c9c9c" stroke="#707070" stroke-width="1"/>
<circle cx="400.4" cy="431.6" r="2.4" fill="#9c9c9c" stroke="#707070" stroke-width="1"/>
<circle cx="428.7" cy="386.9" r="2.9" fill="#000"/><path d="M428.65 385.15A1.9 1.75 0 0 1 428.65 388.65Z" fill="#fff"/>
<circle cx="455.3" cy="388.7" r="2.9" fill="#000"/><path d="M455.25 386.95A1.9 1.75 0 0 1 455.25 390.45Z" fill="#fff"/>
<circle cx="435.4" cy="391.4" r="2.9" fill="#000"/><path d="M435.35 389.65A1.9 1.75 0 0 1 435.35 393.15Z" fill="#fff"/>
<circle cx="442.1" cy="393.1" r="2.9" fill="#000"/><path d="M442.05 391.35A1.9 1.75 0 0 1 442.05 394.85Z" fill="#fff"/>
<circle cx="449" cy="392.5" r="2.9" fill="#000"/><path d="M448.95 390.75A1.9 1.75 0 0 1 448.95 394.25Z" fill="#fff"/>
<circle cx="448.5" cy="396.4" r="2.9" fill="#000"/><path d="M448.45 394.65A1.9 1.75 0 0 1 448.45 398.15Z" fill="#fff"/>
<circle cx="435.4" cy="402.3" r="2.9" fill="#000"/><path d="M435.35 400.55A1.9 1.75 0 0 1 435.35 404.05Z" fill="#fff"/>
<circle cx="442.1" cy="402.7" r="2.9" fill="#000"/><path d="M442.05 400.95A1.9 1.75 0 0 1 442.05 404.45Z" fill="#fff"/>
<circle cx="442.1" cy="410.3" r="2.9" fill="#000"/><path d="M442.05 408.55A1.9 1.75 0 0 1 442.05 412.05Z" fill="#fff"/>
<circle cx="448.5" cy="413.6" r="2.9" fill="#000"/><path d="M448.45 411.85A1.9 1.75 0 0 1 448.45 415.35Z" fill="#fff"/>
<circle cx="435.4" cy="416.5" r="2.9" fill="#000"/><path d="M435.35 414.75A1.9 1.75 0 0 1 435.35 418.25Z" fill="#fff"/>
<circle cx="442.1" cy="418.2" r="2.9" fill="#000"/><path d="M442.05 416.45A1.9 1.75 0 0 1 442.05 419.95Z" fill="#fff"/>
<circle cx="448.5" cy="433.8" r="2.9" fill="#000"/><path d="M448.45 432.05A1.9 1.75 0 0 1 448.45 435.55Z" fill="#fff"/>
<circle cx="442.1" cy="437.2" r="2.9" fill="#000"/><path d="M442.05 435.45A1.9 1.75 0 0 1 442.05 438.95Z" fill="#fff"/>
<circle cx="496.6" cy="383.3" r="2.9" fill="#000"/>
<circle cx="483.3" cy="388.5" r="2.9" fill="#000"/>
<circle cx="489.9" cy="390.2" r="2.9" fill="#000"/>
<circle cx="496.6" cy="398" r="2.9" fill="#000"/>
<circle cx="489.9" cy="403.4" r="2.9" fill="#000"/>
<circle cx="483.3" cy="410.6" r="2.9" fill="#000"/>
<circle cx="489.9" cy="416.3" r="2.9" fill="#000"/>
<circle cx="496.6" cy="431.6" r="2.9" fill="#000"/>
<circle cx="489.9" cy="437" r="2.9" fill="#000"/>
<line x1="345.7" y1="387.7" x2="345.7" y2="414.0" stroke="#000" stroke-width="1.35"/>
<line x1="337.5" y1="387.7" x2="353.9" y2="387.7" stroke="#000" stroke-width="1.6"/>
<line x1="337.5" y1="414.0" x2="353.9" y2="414.0" stroke="#000" stroke-width="1.6"/>
<line x1="329.09999999999997" y1="400.4" x2="362.3" y2="400.4" stroke="#000" stroke-width="1.6"/>
<line x1="393.8" y1="393.9" x2="393.8" y2="423.3" stroke="#000" stroke-width="1.35"/>
<line x1="385.6" y1="393.9" x2="402.0" y2="393.9" stroke="#000" stroke-width="1.6"/>
<line x1="385.6" y1="423.3" x2="402.0" y2="423.3" stroke="#000" stroke-width="1.6"/>
<line x1="377.2" y1="408.8" x2="410.40000000000003" y2="408.8" stroke="#000" stroke-width="1.6"/>
<line x1="441.9" y1="389.5" x2="441.9" y2="422.3" stroke="#000" stroke-width="1.35"/>
<line x1="433.7" y1="389.5" x2="450.09999999999997" y2="389.5" stroke="#000" stroke-width="1.6"/>
<line x1="433.7" y1="422.3" x2="450.09999999999997" y2="422.3" stroke="#000" stroke-width="1.6"/>
<line x1="425.29999999999995" y1="406.0" x2="458.5" y2="406.0" stroke="#000" stroke-width="1.6"/>
<line x1="489.9" y1="387.4" x2="489.9" y2="425.7" stroke="#000" stroke-width="1.35"/>
<line x1="481.7" y1="387.4" x2="498.09999999999997" y2="387.4" stroke="#000" stroke-width="1.6"/>
<line x1="481.7" y1="425.7" x2="498.09999999999997" y2="425.7" stroke="#000" stroke-width="1.6"/>
<line x1="473.29999999999995" y1="406.4" x2="506.5" y2="406.4" stroke="#000" stroke-width="1.6"/>
<path d="M321.8 335.4 V506.9 H514.5" fill="none" stroke="#2c2c2c" stroke-width="1.8"/>
<line x1="318.8" y1="506.9" x2="321.8" y2="506.9" stroke="#2c2c2c" stroke-width="1.5"/>
<text x="316.4" y="510.27" text-anchor="end" font-size="10.2" font-weight="bold" textLength="4.54" lengthAdjust="spacingAndGlyphs">0</text>
<line x1="318.8" y1="472.6" x2="321.8" y2="472.6" stroke="#2c2c2c" stroke-width="1.5"/>
<text x="316.4" y="475.97" text-anchor="end" font-size="10.2" font-weight="bold" textLength="9.07" lengthAdjust="spacingAndGlyphs">10</text>
<line x1="318.8" y1="438.3" x2="321.8" y2="438.3" stroke="#2c2c2c" stroke-width="1.5"/>
<text x="316.4" y="441.67" text-anchor="end" font-size="10.2" font-weight="bold" textLength="9.07" lengthAdjust="spacingAndGlyphs">20</text>
<line x1="318.8" y1="404.0" x2="321.8" y2="404.0" stroke="#2c2c2c" stroke-width="1.5"/>
<text x="316.4" y="407.37" text-anchor="end" font-size="10.2" font-weight="bold" textLength="9.07" lengthAdjust="spacingAndGlyphs">30</text>
<line x1="318.8" y1="369.7" x2="321.8" y2="369.7" stroke="#2c2c2c" stroke-width="1.5"/>
<text x="316.4" y="373.07" text-anchor="end" font-size="10.2" font-weight="bold" textLength="9.07" lengthAdjust="spacingAndGlyphs">40</text>
<line x1="318.8" y1="335.4" x2="321.8" y2="335.4" stroke="#2c2c2c" stroke-width="1.5"/>
<text x="316.4" y="338.77" text-anchor="end" font-size="10.2" font-weight="bold" textLength="9.07" lengthAdjust="spacingAndGlyphs">50</text>
<line x1="345.7" y1="506.9" x2="345.7" y2="509.9" stroke="#2c2c2c" stroke-width="1.5"/>
<line x1="393.8" y1="506.9" x2="393.8" y2="509.9" stroke="#2c2c2c" stroke-width="1.5"/>
<line x1="441.9" y1="506.9" x2="441.9" y2="509.9" stroke="#2c2c2c" stroke-width="1.5"/>
<line x1="489.9" y1="506.9" x2="489.9" y2="509.9" stroke="#2c2c2c" stroke-width="1.5"/>
<text x="329.8" y="526.60" font-size="9.7" font-weight="bold" textLength="28.9" lengthAdjust="spacingAndGlyphs">Control</text>
<text x="379" y="525.60" font-size="9.7" font-weight="bold" textLength="32.5" lengthAdjust="spacingAndGlyphs">Group A</text>
<text x="428.7" y="525.60" font-size="9.7" font-weight="bold" textLength="32.3" lengthAdjust="spacingAndGlyphs">Group B</text>
<text x="476.7" y="525.60" font-size="9.7" font-weight="bold" textLength="32.7" lengthAdjust="spacingAndGlyphs">Group C</text>
<text transform="translate(299.9,497.3) rotate(-90)" x="0" y="0" font-size="10.4" font-weight="bold" textLength="153.3" lengthAdjust="spacingAndGlyphs">Megakaryocyte apoptosis (%)</text>
<text x="282.3" y="291.8" font-size="16.5" font-weight="bold">D</text>
</svg>
</body></html>
